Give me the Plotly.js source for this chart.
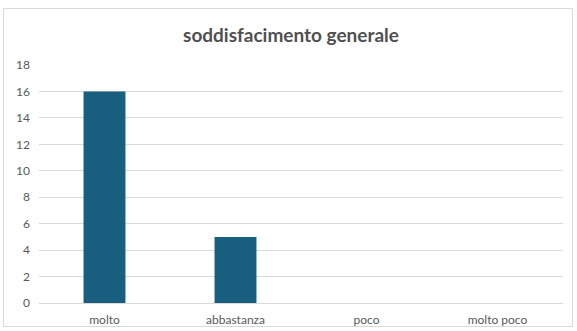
<!DOCTYPE html>
<html>
<head>
<meta charset="utf-8">
<script src="https://cdn.plot.ly/plotly-3.0.1.min.js"></script>
<style>
html,body{margin:0;padding:0;background:#fff;}
#chart{width:577px;height:331px;}
</style>
</head>
<body>
<div id="chart"></div>
<script>
const categories = ["molto", "abbastanza", "poco", "molto poco"];
const values = [16, 5, 0, 0];
const yTicks = [0, 2, 4, 6, 8, 10, 12, 14, 16, 18];
const chartTitle = "soddisfacimento generale";

const trace = {
  type: "bar",
  x: categories,
  y: values,
  marker: {color: "#175e7f"},
  hoverinfo: "x+y"
};

const L = 39, R = 14, T = 65, B = 28, W = 577, H = 331;
const pw = W - L - R, ph = H - T - B;
function px(x){ return (x - L) / pw; }
function py(y){ return (H - B - y) / ph; }

const layout = {
  width: W, height: H,
  margin: {l: L, r: R, t: T, b: B, pad: 0},
  paper_bgcolor: "#ffffff",
  plot_bgcolor: "#ffffff",
  bargap: 0.68,
  showlegend: false,
  font: {family: "Lato, 'Open Sans', sans-serif", color: "#595959", size: 12},
  title: {
    text: "<b>" + chartTitle + "</b>",
    font: {family: "Lato, sans-serif", size: 19, color: "#505050"},
    x: px(291), xanchor: "center", xref: "paper",
    y: 1 - 35 / H, yanchor: "middle"
  },
  xaxis: {
    type: "category",
    showgrid: false, zeroline: false, showline: false,
    ticks: "", tickfont: {size: 12, color: "#595959"},
    ticklabelstandoff: 8,
    fixedrange: true
  },
  yaxis: {
    range: [0, 18],
    tickvals: yTicks,
    ticktext: yTicks.map(String),
    showgrid: true, gridcolor: "#d9d9d9", gridwidth: 1,
    zeroline: true, zerolinecolor: "#d9d9d9", zerolinewidth: 1,
    showline: false, ticks: "",
    ticklabelstandoff: 8,
    tickfont: {size: 12, color: "#595959"},
    fixedrange: true
  },
  shapes: [{
    type: "rect", xref: "paper", yref: "paper",
    x0: px(3.5), x1: px(572.5), y0: py(326.5), y1: py(8.5),
    line: {color: "#d9d9d9", width: 1}, fillcolor: "rgba(0,0,0,0)",
    layer: "below"
  }]
};

Plotly.newPlot("chart", [trace], layout, {displayModeBar: false, staticPlot: true});
</script>
</body>
</html>
